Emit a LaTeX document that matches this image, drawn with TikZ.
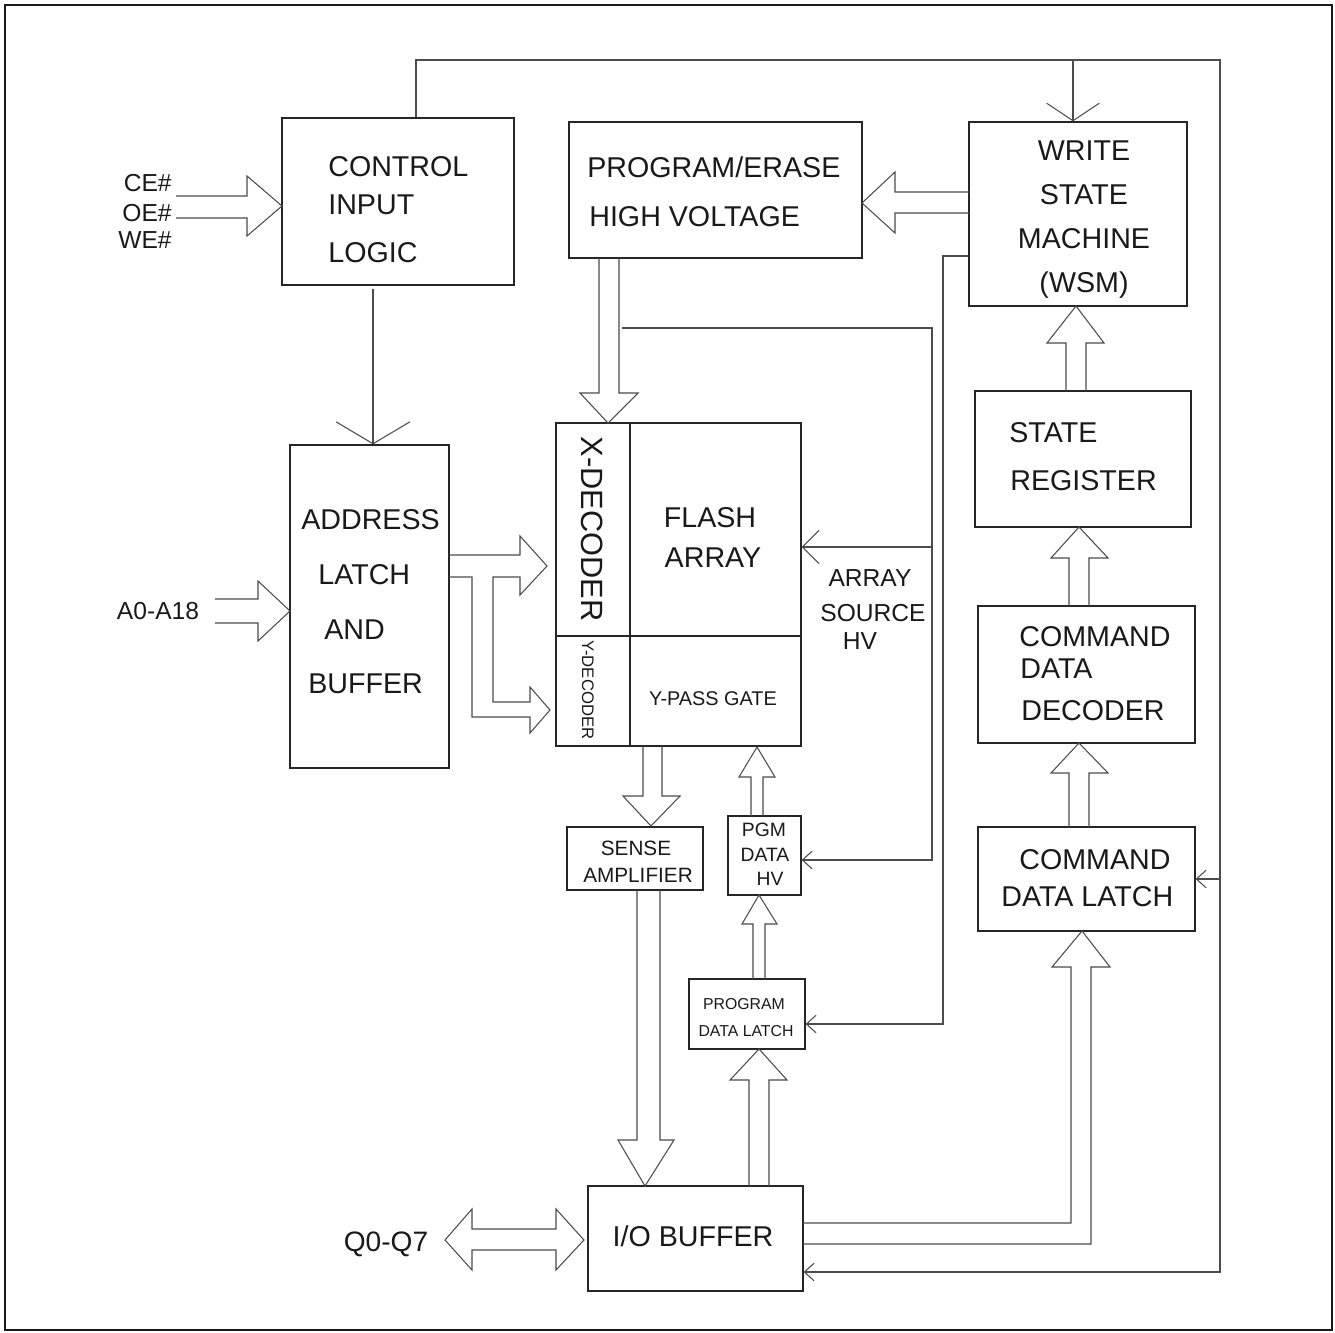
\documentclass[tikz,border=0pt]{standalone}
\usepackage{fontspec}
\setmainfont{Liberation Sans}
\usetikzlibrary{arrows.meta,fit}
\begin{document}
\begin{tikzpicture}[x=0.02cm,y=-0.02cm,
  ln/.style={line width=0.6pt,draw=black!70},
  box/.style={draw=black!85,line width=0.7pt,inner sep=0pt},
  t/.style={inner sep=0pt,text depth=0pt,text height=0.716*#1pt,
    font=\fontsize{#1}{#1}\selectfont,text=black!90},
  t/.default=16.3,
  bigV/.style={-{Straight Barb[length=12.5pt,width=42pt]}},
  topV/.style={-{Straight Barb[length=10pt,width=30pt]}},
  midV/.style={-{Straight Barb[length=9.5pt,width=19pt]}},
  smV/.style={-{Straight Barb[length=5.5pt,width=10pt]}}]
\useasboundingbox (0,0) rectangle (1335,1332);
\draw[line width=1.2pt,black!90] (5,5) rectangle (1332,1330);

% boxes
\node[box, fit={(282,118)(514,285)}] (cil) {};
\node[box, fit={(569,122)(862,258)}] (pehv) {};
\node[box, fit={(969,122)(1187,306)}] (wsm) {};
\node[box, fit={(975,391)(1191,527)}] (sr) {};
\node[box, fit={(978,606)(1195,743)}] (cdd) {};
\node[box, fit={(978,827)(1195,931)}] (cdl) {};
\node[box, fit={(290,445)(449,768)}] (addr) {};
\node[box, fit={(556,423)(801,746)}] (arr) {};
\coordinate (dv) at (630,636);
\draw[box] (arr.north -| dv) -- (arr.south -| dv);
\draw[box] (arr.west |- dv) -- (arr.east |- dv);
\node[box, fit={(567,827)(703,890)}] (sa) {};
\node[box, fit={(728,816)(801,895)}] (pgmhv) {};
\node[box, fit={(689,979)(805,1049)}] (pdl) {};
\node[box, fit={(588,1186)(803,1291)}] (iob) {};

% thin connectors
\coordinate (t1) at (416,60);
\coordinate (t2) at (1220,60);
\coordinate (t3) at (1220,1272);
\coordinate (t4) at (1073,60);
\coordinate (t5) at (1220,879);
\draw[ln,smV] (cil.north -| t1) -- (t1) -- (t2) -- (t3) -- (iob.east |- t3);
\draw[ln,topV] (t4) -- (wsm.north -| t4);
\draw[ln,smV] (t5) -- (cdl.east |- t5);
\coordinate (c1) at (373,289);
\draw[ln,bigV] (c1) -- (addr.north -| c1);
\coordinate (w1) at (943,256);
\coordinate (w2) at (943,1024);
\draw[ln,smV] (wsm.west |- w1) -- (w1) -- (w2) -- (pdl.east |- w2);
\coordinate (p1) at (622,328);
\coordinate (p2) at (932,328);
\coordinate (p3) at (932,860);
\coordinate (p4) at (932,547);
\draw[ln,smV] (p1) -- (p2) -- (p3) -- (pgmhv.east |- p3);
\draw[ln,midV] (p4) -- (arr.east |- p4);

% hollow bus arrows
\draw[ln] (176,196) -- (247,196) -- (247,176) -- (282,206) -- (247,236) -- (247,218) -- (176,218);
\draw[ln] (215,599) -- (258,599) -- (258,581) -- (290,611) -- (258,641) -- (258,623) -- (215,623);
\draw[ln] (969,192) -- (895,192) -- (895,172) -- (862,203) -- (895,233) -- (895,213) -- (969,213);
\draw[ln] (599,258) -- (599,393) -- (580,393) -- (608,423) -- (638,393) -- (619,393) -- (619,258);
\draw[ln] (449,555) -- (520,555) -- (520,536) -- (547,566) -- (520,595) -- (520,577) -- (493,577)
  -- (493,702) -- (530,702) -- (530,687) -- (550,710) -- (530,733) -- (530,717) -- (472,717) -- (472,577) -- (449,577);
\draw[ln] (643,746) -- (643,796) -- (623,796) -- (651,826) -- (680,796) -- (662,796) -- (662,746);
\draw[ln] (637,890) -- (637,1140) -- (618,1140) -- (645,1186) -- (674,1140) -- (660,1140) -- (660,890);
\draw[ln] (749,1186) -- (749,1080) -- (730,1080) -- (759,1049) -- (787,1080) -- (769,1080) -- (769,1186);
\draw[ln] (753,979) -- (753,924) -- (742,924) -- (759,895) -- (777,924) -- (765,924) -- (765,979);
\draw[ln] (751,816) -- (751,777) -- (739,777) -- (757,747) -- (775,777) -- (763,777) -- (763,816);
\draw[ln] (803,1223) -- (1071,1223) -- (1071,967) -- (1052,967) -- (1082,931) -- (1110,967) -- (1091,967) -- (1091,1244) -- (803,1244);
\draw[ln] (1069,827) -- (1069,773) -- (1051,773) -- (1079,743) -- (1108,773) -- (1089,773) -- (1089,827);
\draw[ln] (1069,606) -- (1069,558) -- (1051,558) -- (1079,527) -- (1108,558) -- (1089,558) -- (1089,606);
\draw[ln] (1066,391) -- (1066,343) -- (1047,343) -- (1076,306) -- (1104,343) -- (1086,343) -- (1086,391);
\draw[ln] (472,1229) -- (556,1229) -- (556,1209) -- (584,1240) -- (556,1270) -- (556,1250) -- (472,1250)
  -- (472,1270) -- (445,1240) -- (472,1209) -- cycle;

% texts
\node[t=14,anchor=east] (ce) at (172,183) {CE\#};
\node[t=14,anchor=east] (oe) at (172,213) {OE\#};
\node[t=14,anchor=east] (we) at (172,240) {WE\#};
\node[t,anchor=west] (cil1) at (328,166) {CONTROL};
\node[t,anchor=west] (cil2) at (328,204) {INPUT};
\node[t,anchor=west] (cil3) at (328,252) {LOGIC};
\node[t,anchor=west] (pe1) at (587,167) {PROGRAM/ERASE};
\node[t,anchor=west] (pe2) at (589,216) {HIGH VOLTAGE};
\node[t] (ws1) at (1084,150) {WRITE};
\node[t] (ws2) at (1084,194) {STATE};
\node[t] (ws3) at (1084,238) {MACHINE};
\node[t] (ws4) at (1084,282) {(WSM)};
\node[t,anchor=west] (sr1) at (1009,432) {STATE};
\node[t,anchor=west] (sr2) at (1010,480) {REGISTER};
\node[t,anchor=west] (cd1) at (1019,636) {COMMAND};
\node[t,anchor=west] (cd2) at (1020,668) {DATA};
\node[t,anchor=west] (cd3) at (1021,710) {DECODER};
\node[t,anchor=west] (cl1) at (1019,859) {COMMAND};
\node[t,anchor=west] (cl2) at (1001,896) {DATA LATCH};
\node[t,anchor=west] (ad1) at (301,519) {ADDRESS};
\node[t,anchor=west] (ad2) at (318,574) {LATCH};
\node[t,anchor=west] (ad3) at (324,629) {AND};
\node[t,anchor=west] (ad4) at (308,683) {BUFFER};
\node[t=14] (a0) at (158,611) {A0-A18};
\node[t=17.5,rotate=-90] (xd) at (592,529) {X-DECODER};
\node[t=9.5,rotate=-90] (yd) at (588,690) {Y-DECODER};
\node[t] (fa1) at (710,517) {FLASH};
\node[t] (fa2) at (713,557) {ARRAY};
\node[t=11.3] (yp) at (713,698) {Y-PASS GATE};
\node[t=14] (as1) at (870,578) {ARRAY};
\node[t=14] (as2) at (873,613) {SOURCE};
\node[t=14] (as3) at (860,641) {HV};
\node[t=11.8] (sa1) at (636,848) {SENSE};
\node[t=11.8] (sa2) at (638,875) {AMPLIFIER};
\node[t=11] (pg1) at (764,830) {PGM};
\node[t=11] (pg2) at (765,855) {DATA};
\node[t=11] (pg3) at (770,879) {HV};
\node[t=9] (pd1) at (744,1004) {PROGRAM};
\node[t=9] (pd2) at (746,1031) {DATA LATCH};
\node[t] (io) at (693,1236) {I/O BUFFER};
\node[t=16] (q0) at (386,1241) {Q0-Q7};
\end{tikzpicture}
\end{document}
